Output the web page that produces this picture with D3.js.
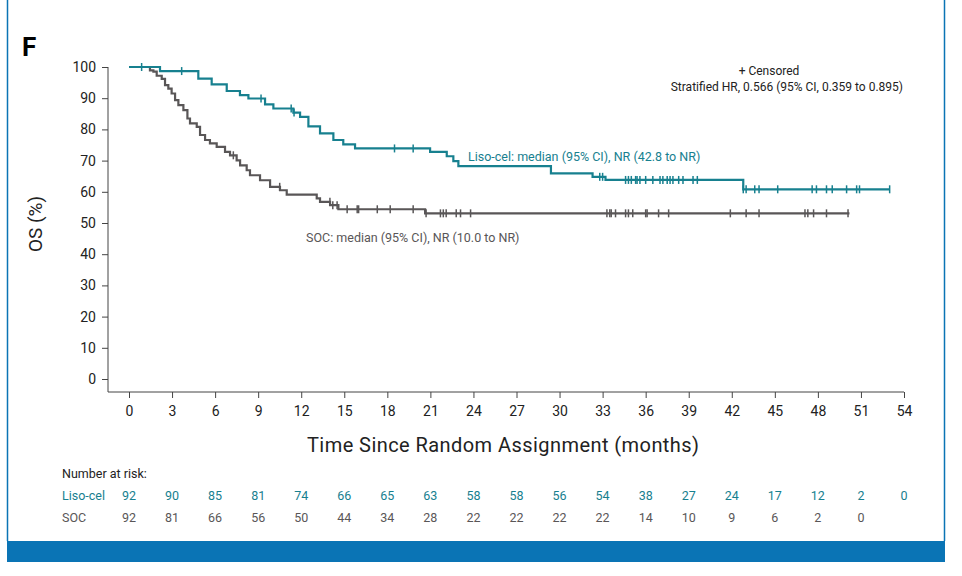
<!DOCTYPE html><html><head><meta charset="utf-8"><script src="https://cdn.jsdelivr.net/npm/d3@7"></script>
<style>body{margin:0;background:#fff}text{font-family:Roboto,"Liberation Sans",sans-serif}</style></head><body><svg id="c" width="962" height="576"></svg>
<script>
const lisoSteps=[[0,100],[2.16,98.7],[4.83,96.3],[5.76,94.4],[6.81,92.3],[7.73,91.0],[8.32,89.9],[9.48,88.0],[10.06,86.7],[11.45,85.4],[11.92,84.0],[12.5,81.0],[13.31,78.7],[14.24,76.6],[14.93,75.2],[15.75,73.9],[20.98,72.8],[22.14,71.4],[22.6,69.8],[22.95,68.2],[29.4,65.9],[32.3,64.8],[33.2,63.8],[42.8,60.8]];
const lisoEnd=53.0;
const lisoCens=[0.88,3.67,9.2,11.3,11.5,18.5,19.8,32.8,33.0,34.6,34.8,35.0,35.3,35.4,35.6,36.0,36.5,37.0,37.2,37.5,37.7,37.9,38.3,38.6,39.3,39.6,42.8,43.0,43.6,43.9,45.2,47.6,47.9,48.6,49.0,50.0,50.7,50.9,53.0];
const socSteps=[[0,100],[1.46,98.9],[1.70,98.5],[1.93,97.2],[2.28,96.2],[2.51,94.2],[2.74,93.1],[2.97,91.5],[3.21,89.4],[3.44,87.8],[3.79,86.2],[4.07,83.5],[4.25,81.9],[4.72,80.8],[4.95,78.2],[5.30,76.6],[5.64,75.5],[6.11,74.4],[6.69,72.8],[7.04,71.7],[7.50,70.1],[7.74,68.5],[8.20,66.9],[8.43,65.3],[9.13,63.7],[9.83,61.6],[10.52,60.5],[10.99,59.1],[13.08,57.9],[13.31,56.8],[14.01,55.7],[14.59,54.4],[20.63,53.1]];
const socEnd=50.2;
const socCens=[7.27,10.5,14.0,14.2,14.5,15.2,15.9,16.0,17.3,18.2,19.8,20.7,21.7,21.9,22.1,22.8,23.1,23.8,33.3,33.5,33.6,33.9,34.6,34.8,35.1,36.0,36.1,36.9,37.6,41.9,43.0,43.9,47.1,47.3,47.7,48.6,50.1];
const xTicks=d3.range(0,55,3);
const yTicks=d3.range(0,101,10);
const riskLiso=[92,90,85,81,74,66,65,63,58,58,56,54,38,27,24,17,12,2,0];
const riskSoc=[92,81,66,56,50,44,34,28,22,22,22,22,14,10,9,6,2,0];
const TEAL="#17808f",GRAY="#595657",BLUE="#0a74b5";
const svg=d3.select("#c");
const x=d3.scaleLinear().domain([0,54]).range([129,904]);
const y=d3.scaleLinear().domain([0,100]).range([379,67]);
svg.append("rect").attr("x",7).attr("y",541).attr("width",938).attr("height",21).attr("fill",BLUE);
svg.append("line").attr("x1",7.5).attr("x2",7.5).attr("y1",0).attr("y2",541).attr("stroke",BLUE).attr("stroke-width",1.5);
svg.append("line").attr("x1",944.5).attr("x2",944.5).attr("y1",0).attr("y2",541).attr("stroke",BLUE).attr("stroke-width",1.5);
const ax=svg.append("g").attr("transform","translate(0,392)").call(d3.axisBottom(x).tickValues(xTicks).tickSize(6).tickPadding(8));
ax.select(".domain").attr("d","M108,0H904");
const ay=svg.append("g").attr("transform","translate(108,0)").call(d3.axisLeft(y).tickValues(yTicks).tickSize(6).tickPadding(6));
ay.select(".domain").attr("d","M0,"+y(100)+"V392");
svg.selectAll(".tick text").attr("font-size",14).attr("fill","#222").attr("font-family","Roboto");
svg.selectAll(".domain,.tick line").attr("stroke","#444");
function curve(steps,end,cens,col){
  const pts=steps.concat([[end,steps[steps.length-1][1]]]);
  svg.append("path").attr("d",d3.line().x(d=>x(d[0])).y(d=>y(d[1])).curve(d3.curveStepAfter)(pts)).attr("fill","none").attr("stroke",col).attr("stroke-width",2.2);
  const val=t=>{let v=100;for(const s of steps)if(s[0]<=t)v=s[1];return v;};
  svg.append("g").selectAll("line").data(cens).join("line").attr("x1",d=>x(d)).attr("x2",d=>x(d)).attr("y1",d=>y(val(d))-4).attr("y2",d=>y(val(d))+4).attr("stroke",col).attr("stroke-width",1.5);
}
curve(socSteps,socEnd,socCens,GRAY);
curve(lisoSteps,lisoEnd,lisoCens,TEAL);
svg.append("text").attr("x",22).attr("y",56).attr("font-size",26).attr("font-weight","bold").text("F");
svg.append("text").attr("transform","translate(42,224) rotate(-90)").attr("text-anchor","middle").attr("font-size",19).attr("fill","#222").text("OS (%)");
svg.append("text").attr("x",503).attr("y",452).attr("text-anchor","middle").attr("font-size",20).attr("fill","#222").attr("textLength",392).text("Time Since Random Assignment (months)");
svg.append("text").attr("x",769).attr("y",75).attr("text-anchor","middle").attr("font-size",12).attr("fill","#222").text("+ Censored");
svg.append("text").attr("x",903).attr("y",91).attr("text-anchor","end").attr("font-size",12).attr("fill","#222").text("Stratified HR, 0.566 (95% CI, 0.359 to 0.895)");
svg.append("text").attr("x",468).attr("y",161).attr("font-size",12.5).attr("fill",TEAL).text("Liso-cel: median (95% CI), NR (42.8 to NR)");
svg.append("text").attr("x",306).attr("y",242).attr("font-size",12.5).attr("fill",GRAY).text("SOC: median (95% CI), NR (10.0 to NR)");
svg.append("text").attr("x",62).attr("y",478).attr("font-size",12.5).attr("fill","#222").text("Number at risk:");
svg.append("text").attr("x",62).attr("y",500).attr("font-size",12.5).attr("fill",TEAL).text("Liso-cel");
svg.append("text").attr("x",62).attr("y",522).attr("font-size",12.5).attr("fill",GRAY).text("SOC");
svg.append("g").selectAll("text").data(riskLiso).join("text").attr("x",(d,i)=>x(xTicks[i])).attr("y",500).attr("text-anchor","middle").attr("font-size",12.5).attr("fill",TEAL).text(d=>d);
svg.append("g").selectAll("text").data(riskSoc).join("text").attr("x",(d,i)=>x(xTicks[i])).attr("y",522).attr("text-anchor","middle").attr("font-size",12.5).attr("fill",GRAY).text(d=>d);
</script></body></html>
